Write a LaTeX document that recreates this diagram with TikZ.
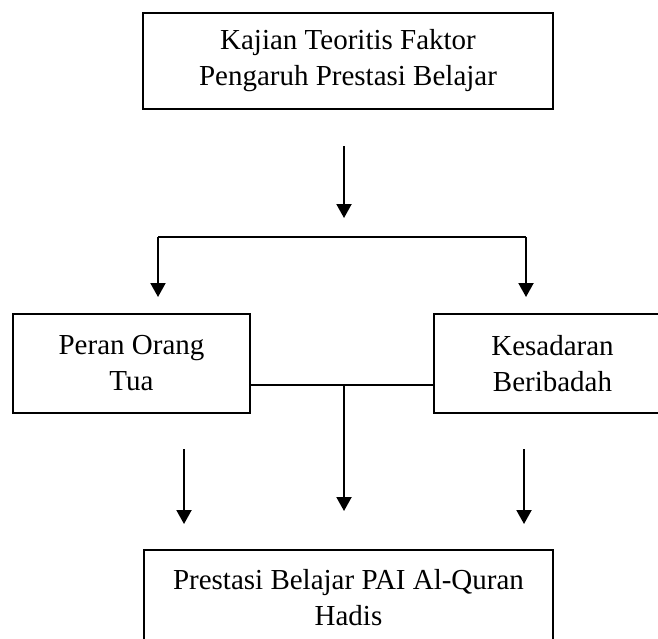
\documentclass[tikz,border=0pt]{standalone}
\usepackage{fontspec}
\setmainfont{Liberation Serif}
\usetikzlibrary{arrows.meta}
\tikzstyle{kotak}=[draw=black,line width=2.6pt,align=center,inner sep=0pt,font=\fontsize{29}{36}\selectfont]
\tikzstyle{panah}=[-{Triangle[length=14pt,width=15pt]},line width=2pt]
\tikzstyle{garis}=[line width=1.2pt]

\begin{document}
\begin{tikzpicture}[x=1pt,y=-1pt]
			\clip (0,0) rectangle (658,638);
			\node (teori) at (348,61) [kotak,minimum width=410pt,minimum height=96pt] {Kajian Teoritis Faktor\\Pengaruh Prestasi Belajar};
			\node (ortu) at (131.5,363.5) [kotak,minimum width=237pt,minimum height=99pt] {Peran Orang\\Tua};
			\node (ibadah) at (552.5,363.5) [kotak,minimum width=237pt,minimum height=99pt] {Kesadaran\\Beribadah};
			\node (hasil) at (348.5,598) [kotak,minimum width=409pt,minimum height=96pt] {Prestasi Belajar PAI Al-Quran\\Hadis};
			
			\coordinate (t1) at (344,146);
			\coordinate (t2) at (344,218);
			\coordinate (cabangL) at (158,237);
			\coordinate (cabangR) at (526,237);
			\coordinate (ujungL) at (158,297);
			\coordinate (ujungR) at (526,297);
			
			\coordinate (temu) at (344,385);
			\coordinate (ujungM) at (344,511);
			\coordinate (a1) at (184,449);
			\coordinate (a2) at (184,524);
			\coordinate (b1) at (524,449);
			\coordinate (b2) at (524,524);
			
			\draw [panah] (t1) -- (t2);
			\draw [garis] (cabangL) -- (cabangR);
			\draw [panah] (cabangL) -- (ujungL);
			\draw [panah] (cabangR) -- (ujungR);
			
			\draw [garis] (ortu.east |- temu) -- (ibadah.west |- temu);
			\draw [panah] (temu) -- (ujungM);
			\draw [panah] (a1) -- (a2);
			\draw [panah] (b1) -- (b2);
		\end{tikzpicture}
\end{document}
